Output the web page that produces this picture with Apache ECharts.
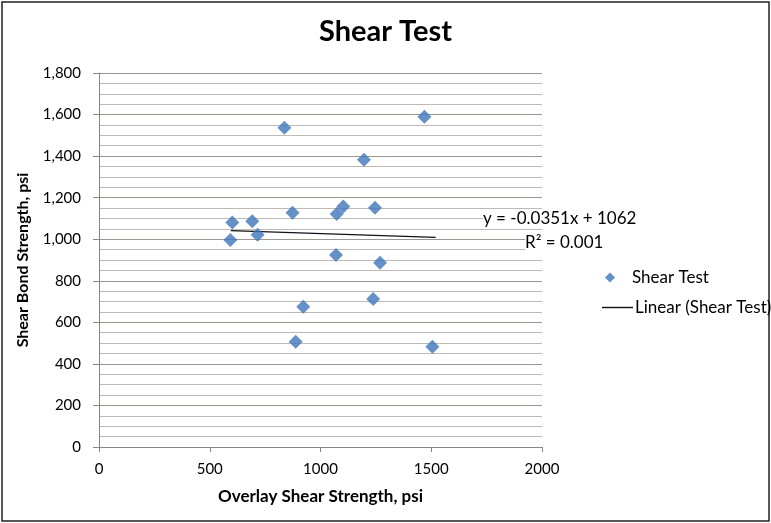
<!DOCTYPE html>
<html>
<head>
<meta charset="utf-8">
<script src="https://cdn.jsdelivr.net/npm/echarts@6/dist/echarts.min.js"></script>
<style>
  html, body { margin: 0; padding: 0; background: #fff; }
  #chart { width: 771px; height: 523px; }
</style>
</head>
<body>
<div id="chart"></div>
<script>
// overlay shear strength (x) vs shear bond strength (y), psi
const overlayShear = [837, 602, 692, 593, 716, 874, 1073, 1103, 1070, 1469, 1196, 1246, 1269, 1238, 1505, 922, 888];
const bondShear = [1537, 1080, 1086, 996, 1022, 1128, 1121, 1157, 924, 1590, 1382, 1152, 887, 712, 482, 675, 506];

// linear trendline ends, as drawn
const trendX = [595, 1520];
const trendY = [1041, 1009];

const xTicks = [0, 500, 1000, 1500, 2000];
const yTicks = [0, 200, 400, 600, 800, 1000, 1200, 1400, 1600, 1800];

const FONT = "Lato, 'Open Sans', sans-serif";
const BLUE = "#3f75bc";

const chart = echarts.init(document.getElementById("chart"));

chart.setOption({
  backgroundColor: "#fff",
  animation: false,
  textStyle: { fontFamily: FONT, color: "#000" },
  title: {
    text: "Shear Test",
    left: "center",
    top: 12,
    textStyle: { fontFamily: FONT, fontSize: 29, fontWeight: "bold", color: "#000" },
  },
  grid: { left: 99, right: 229, top: 73, bottom: 76 },
  xAxis: {
    type: "value",
    min: xTicks[0],
    max: xTicks[xTicks.length - 1],
    interval: 500,
    name: "Overlay Shear Strength, psi",
    nameLocation: "middle",
    nameGap: 41,
    nameTextStyle: { fontFamily: FONT, fontSize: 17, fontWeight: "bold", color: "#000" },
    axisLine: { lineStyle: { color: "#8c8480", width: 1 } },
    axisTick: { show: true, length: 5, lineStyle: { color: "#8c8480" } },
    axisLabel: { fontFamily: FONT, fontSize: 15, color: "#000", margin: 15, formatter: (v) => String(v) },
    splitLine: { show: false },
  },
  yAxis: {
    type: "value",
    min: yTicks[0],
    max: yTicks[yTicks.length - 1],
    interval: 200,
    name: "Shear Bond Strength, psi",
    nameLocation: "middle",
    nameGap: 68,
    nameTextStyle: { fontFamily: FONT, fontSize: 16, fontWeight: "bold", color: "#000" },
    axisLine: { show: true, lineStyle: { color: "#8c8480", width: 1 } },
    axisTick: { show: true, length: 6, lineStyle: { color: "#8c8480" } },
    axisLabel: {
      fontFamily: FONT,
      fontSize: 15,
      color: "#000",
      margin: 18,
      formatter: (v) => v.toLocaleString("en-US"),
    },
    splitLine: { show: true, lineStyle: { color: "#9e958f", width: 1 } },
    minorTick: { show: false, splitNumber: 4 },
    minorSplitLine: { show: true, lineStyle: { color: "#c0b8b3", width: 1 } },
  },
  legend: [
    {
      data: [{ name: "Shear Test", icon: "diamond" }],
      orient: "vertical",
      left: 600,
      top: 264,
      itemWidth: 10,
      itemHeight: 10,
      textStyle: { fontFamily: FONT, fontSize: 17, color: "#000", padding: [0, 0, 0, 12] },
    },
    {
      data: [{ name: "Linear (Shear Test)", icon: "rect", itemStyle: { color: "#111" } }],
      orient: "vertical",
      left: 597,
      top: 294,
      itemWidth: 31,
      itemHeight: 1.4,
      textStyle: { fontFamily: FONT, fontSize: 17, color: "#000", padding: [0, 0, 0, -3] },
    },
  ],
  graphic: [
    {
      type: "rect",
      shape: { x: 2, y: 2, width: 767, height: 519 },
      style: { fill: "none", stroke: "#222", lineWidth: 1.5 },
      silent: true,
    },
    {
      type: "text",
      left: 483,
      top: 209,
      z: 10,
      style: {
        text: "y = -0.0351x + 1062",
        font: "17px " + FONT,
        fill: "#000",
        backgroundColor: "#fff",
        padding: [1, 0, 1, 0],
      },
    },
    {
      type: "text",
      left: 525,
      top: 233,
      z: 10,
      style: {
        text: "R² = 0.001",
        font: "17px " + FONT,
        fill: "#000",
        backgroundColor: "#fff",
        padding: [1, 0, 1, 0],
      },
    },
  ],
  series: [
    {
      name: "Shear Test",
      type: "scatter",
      symbol: "diamond",
      symbolSize: 14,
      itemStyle: { color: BLUE },
      data: overlayShear.map((x, i) => [x, bondShear[i]]),
      z: 3,
    },
    {
      name: "Linear (Shear Test)",
      type: "line",
      symbol: "none",
      showSymbol: false,
      lineStyle: { color: "#111", width: 1.2 },
      itemStyle: { color: "#111" },
      data: trendX.map((x, i) => [x, trendY[i]]),
      z: 2,
    },
  ],
});
</script>
</body>
</html>
